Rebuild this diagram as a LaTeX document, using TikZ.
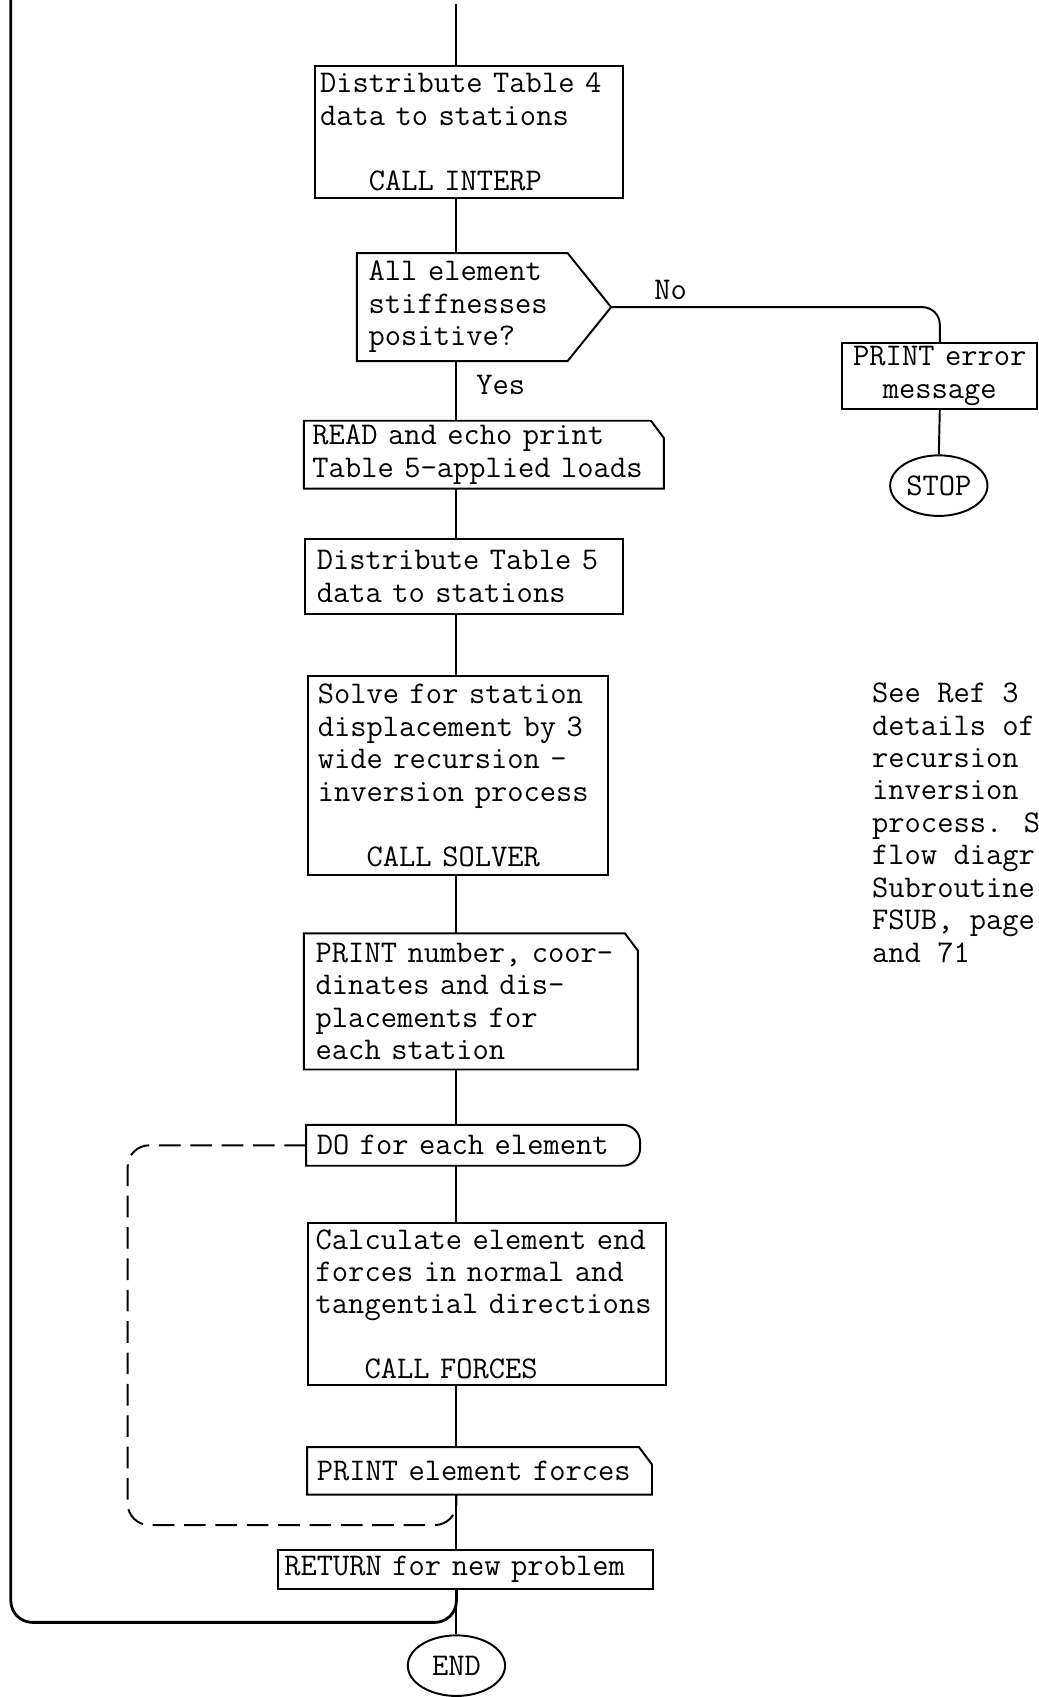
\documentclass[tikz,border=0pt]{standalone}
\usepackage{fontspec}
\usetikzlibrary{calc}
\usetikzlibrary{shapes.geometric}

\tikzset{
  proc/.style={draw, rectangle, anchor=north west, align=left, inner ysep=0pt, line width=0.9pt},
  flow/.style={line width=0.9pt},
  termin/.style={draw, ellipse, line width=0.9pt, minimum width=45pt, minimum height=28pt, inner sep=0pt},
}

\begin{document}
\begin{tikzpicture}[x=0.5pt, y=-0.5pt,
  font=\fontsize{14.6}{15}\selectfont\ttfamily\addfontfeatures{FakeBold=0.6}]

\def\cx{6pt}
\def\cy{8pt}
\def\rr{8pt}

% 定义点
\coordinate (top) at (422,4);
\coordinate (decpt) at (565,284);
\coordinate (loop) at (118,1410);
\coordinate (back) at (10,1500);
\coordinate (corner) at (10,0);

\useasboundingbox (0,0) rectangle (960,1569);

% 框
\node[proc, inner xsep=2.5pt, text width=137.5pt, minimum height=61pt] (interp) at (290,60)
  {Distribute Table 4\\data to stations\\[15pt]\phantom{xxx}CALL INTERP};

\node[proc, draw=none, inner xsep=5pt, text width=86.5pt, minimum height=49pt] (stiff) at (330,234)
  {All element\\stiffnesses\\positive?};
\draw[flow] (stiff.north west) -- (stiff.north east) -- (decpt) -- (stiff.south east) -- (stiff.south west) -- cycle;

\node[proc, align=center, inner xsep=2pt, text width=86pt, minimum height=30.5pt] (err) at (778,316)
  {PRINT error\\message};
\node[termin] (stop) at (868,449) {STOP};

\node[proc, draw=none, inner xsep=3.5pt, text width=158.5pt, minimum height=30.5pt] (read) at (281,389)
  {READ and echo print\\Table 5-applied loads};
\draw[flow] (read.north west) -- ([xshift=-\cx]read.north east) -- ([yshift=-\cy]read.north east) -- (read.south east) -- (read.south west) -- cycle;

\node[proc, inner xsep=5.5pt, text width=136pt, minimum height=35pt] (tab5) at (281,497)
  {Distribute Table 5\\data to stations};

\node[proc, inner xsep=4.5pt, text width=129.5pt, minimum height=92pt] (solver) at (284,624)
  {Solve for station\\displacement by 3\\wide recursion -\\inversion process\\[15pt]\phantom{xxx}CALL SOLVER};

\node[proc, draw=none, inner xsep=5pt, text width=143.5pt, minimum height=62pt] (prdisp) at (281,863)
  {PRINT number, coor-\\dinates and dis-\\placements for\\each station};
\draw[flow] (prdisp.north west) -- ([xshift=-\cx]prdisp.north east) -- ([yshift=-\cy]prdisp.north east) -- (prdisp.south east) -- (prdisp.south west) -- cycle;

\node[proc, draw=none, inner xsep=4.5pt, text width=144.5pt, minimum height=18pt] (doel) at (283,1040)
  {DO for each element};
\draw[flow] (doel.south west) -- (doel.north west) -- ([xshift=-\rr]doel.north east)
  arc[start angle=90, end angle=0, radius=\rr] -- ([yshift=\rr]doel.south east)
  arc[start angle=0, end angle=-90, radius=\rr] -- cycle;

\node[proc, inner xsep=3.5pt, text width=158.5pt, minimum height=75pt] (forces) at (284,1130)
  {Calculate element end\\forces in normal and\\tangential directions\\[15pt]\phantom{xxx}CALL FORCES};

\node[proc, draw=none, inner xsep=4pt, text width=150.5pt, minimum height=21pt] (prforce) at (284,1338)
  {PRINT element forces};
\draw[flow] (prforce.north west) -- ([xshift=-\cx]prforce.north east) -- ([yshift=-\cy]prforce.north east) -- (prforce.south east) -- (prforce.south west) -- cycle;

\node[proc, inner xsep=3pt, text width=167.5pt, minimum height=18pt] (ret) at (256,1432)
  {RETURN for new problem};

\node[termin] (finish) at (422,1540) {END};

\node (no) at (620,268) {No};
\node (yes) at (463,356) {Yes};

\node[anchor=north west, inner sep=0pt, align=left] (note) at (806,631)
  {See Ref 3\\details of\\recursion\\inversion\\process. S\\flow diagr\\Subroutine\\FSUB, page\\and 71};

% 连线
\draw[flow] (top) -- (top |- interp.north);
\draw[flow] (top |- interp.south) -- (top |- stiff.north);
\draw[flow, rounded corners=8pt] (decpt) -| (err.north);
\draw[flow] (err.south) -- (stop.north);
\draw[flow] (top |- stiff.south) -- (top |- read.north);
\draw[flow] (top |- read.south) -- (top |- tab5.north);
\draw[flow] (top |- tab5.south) -- (top |- solver.north);
\draw[flow] (top |- solver.south) -- (top |- prdisp.north);
\draw[flow] (top |- prdisp.south) -- (top |- doel.north);
\draw[flow] (top |- doel.south) -- (top |- forces.north);
\draw[flow] (top |- forces.south) -- (top |- prforce.north);
\draw[flow] (top |- prforce.south) -- (top |- ret.north);
\draw[flow] (top |- ret.south) -- (finish.north);

\draw[flow, dash pattern=on 10pt off 4.5pt, rounded corners=10pt]
  (doel.west) -- (loop |- doel.west) -- (loop) -- (top |- loop) -- (top |- prforce.south);

\draw[line width=1.3pt, rounded corners=10pt]
  (top |- ret.south) -- (top |- back) -- (back) -- (corner);

\end{tikzpicture}
\end{document}
